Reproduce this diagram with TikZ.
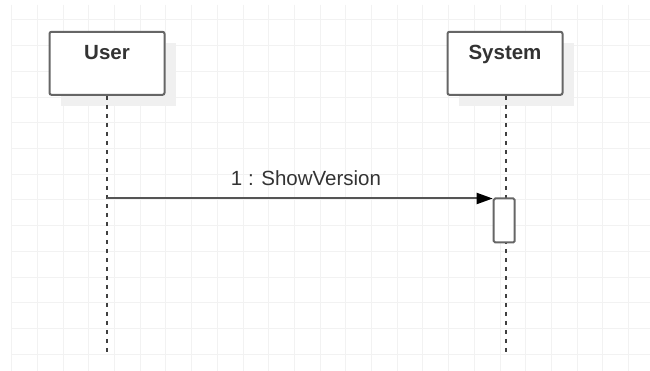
\documentclass[tikz,border=0pt]{standalone}
\usepackage{fontspec}
\setmainfont{Liberation Sans}
\usetikzlibrary{arrows.meta,shadows}
\definecolor{gridc}{HTML}{F2F2F2}
\definecolor{shadowc}{HTML}{F0F0F0}
\definecolor{edgec}{HTML}{666666}
\definecolor{textc}{HTML}{333333}
\definecolor{msgc}{HTML}{555555}
\tikzset{
  x=1pt, y=-1pt,
  gridline/.style={draw=gridc, line width=1pt},
  lifebox/.style={draw=edgec, line width=2pt, fill=white, rounded corners=2pt,
    minimum width=115pt, minimum height=63pt, inner sep=0pt},
  boxshadow/.style={fill=shadowc},
  lifetitle/.style={text=textc, font=\fontsize{20.5}{24}\selectfont\bfseries, inner sep=0pt, anchor=base},
  lifeline/.style={draw=black!75, line width=2pt, dash pattern=on 4.5pt off 4.5pt},
  actbox/.style={draw=edgec, line width=2pt, fill=white, rounded corners=1.5pt,
    minimum width=21pt, minimum height=44pt, inner sep=0pt},
  msgline/.style={draw=msgc, line width=2pt, -{Triangle[length=16pt,width=11pt,color=black]}},
  msglabel/.style={text=textc, font=\fontsize{20.5}{24}\selectfont, inner sep=0pt, anchor=base}
}
\begin{document}
\begin{tikzpicture}
\useasboundingbox (0,0) rectangle (650,371);
\fill[white] (0,0) rectangle (650,371);
% grid
\foreach \i in {0,...,24} {
  \draw[gridline] ({11.7+25.7*\i},5) -- ({11.7+25.7*\i},371);
}
\foreach \j in {0,...,13} {
  \draw[gridline] (11.7,{20+25.7*\j}) -- (650,{20+25.7*\j});
}
% shadows
\fill[boxshadow] (60.5,43) rectangle (175.5,106);
\fill[boxshadow] (458.5,43) rectangle (573.5,106);
% lifeline heads
\node[lifebox] (user) at (107,63.3) {};
\node[lifebox] (sys) at (505,63.3) {};
\node[lifetitle] (usert) at (107,59.5) {User};
\node[lifetitle] (syst) at (505,59.5) {System};
% lifelines
\coordinate (userEnd) at (107,352);
\coordinate (sysEnd) at (506,352);
\draw[lifeline] (user.south) -- (userEnd);
\draw[lifeline] ([xshift=1pt]sys.south) -- (sysEnd);
% activation
\node[actbox] (act) at (504.2,220.5) {};
% message
\coordinate (msgStart) at (107,198.5);
\draw[msgline] (msgStart) -- (msgStart -| act.west);
\node[msglabel] (msgl) at (306,185.5) {1 : ShowVersion};
\end{tikzpicture}
\end{document}
